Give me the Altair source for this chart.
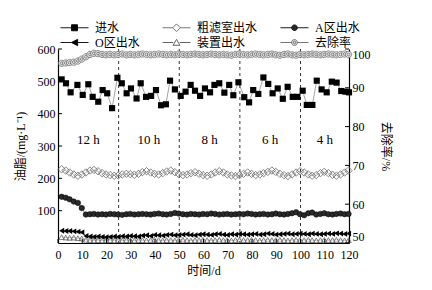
import altair as alt
import pandas as pd

# ---------------- data ----------------
series_names = ["进水", "粗滤室出水", "A区出水", "O区出水", "装置出水", "去除率"]

inflow_days = [1.5, 3.3, 5.2, 8, 10.2, 12.5, 14.3, 16.6, 18.4, 20.3,
               22.3, 24.5, 26.3, 28.3, 30.1, 32.4, 34.1, 36.3, 38.4, 40.4,
               42.5, 44.5, 46.2, 48.2, 50.6, 52.6, 54.7, 56.5, 58.6, 60.6,
               62.7, 64.5, 66.5, 68.6, 70.6, 72.3, 74.4, 76.8, 78.8, 80.5,
               82.6, 84.7, 86.7, 88.5, 90.6, 92.7, 94.7, 96.8, 98.7, 100.9,
               102.6, 104.9, 106.7, 108.7, 110.8, 112.9, 114.9, 116.8, 118.6, 120]
inflow = [506, 494, 466, 489, 458, 491, 452, 437, 473, 463,
          417, 511, 494, 463, 478, 447, 494, 452, 455, 473,
          426, 429, 502, 475, 455, 468, 489, 471, 455, 478,
          466, 489, 494, 465, 489, 457, 497, 451, 435, 473,
          461, 512, 492, 463, 478, 446, 483, 452, 452, 471,
          427, 427, 502, 475, 466, 499, 496, 470, 468, 466]

days = [1.5, 3.2, 4.8, 6.5, 8.2, 9.8, 11.5, 13.2, 14.8, 16.5,
        18.2, 19.8, 21.5, 23.2, 24.8, 26.5, 28.2, 29.8, 31.5, 33.2,
        34.8, 36.5, 38.2, 39.8, 41.5, 43.2, 44.8, 46.5, 48.2, 49.8,
        51.5, 53.2, 54.8, 56.5, 58.2, 59.8, 61.5, 63.2, 64.8, 66.5,
        68.2, 69.8, 71.5, 73.2, 74.8, 76.5, 78.2, 79.8, 81.5, 83.2,
        84.8, 86.5, 88.2, 89.8, 91.5, 93.2, 94.8, 96.5, 98.2, 99.8,
        101.5, 103.2, 104.8, 106.5, 108.2, 109.8, 111.5, 113.2, 114.8, 116.5,
        118.2, 119.8]

coarse = [228, 224, 218, 212, 208, 212, 218, 224, 226, 222,
          216, 212, 210, 208, 209, 212, 214, 213, 211, 214,
          219, 222, 218, 214, 212, 216, 221, 224, 219, 213,
          210, 212, 216, 219, 214, 210, 208, 212, 218, 222,
          218, 212, 209, 207, 210, 214, 218, 214, 210, 212,
          216, 220, 224, 220, 214, 210, 207, 212, 218, 222,
          218, 212, 208, 210, 216, 220, 216, 211, 208, 212,
          218, 224]

zone_a = [143, 140, 135, 128, 124, 108, 88, 89, 90, 88,
          89, 88, 90, 89, 88, 87, 89, 90, 88, 89,
          90, 89, 88, 90, 91, 89, 88, 90, 93, 91,
          89, 88, 90, 89, 88, 90, 89, 91, 90, 88,
          89, 90, 88, 89, 90, 89, 91, 90, 88, 89,
          90, 88, 89, 91, 89, 88, 90, 92, 95, 89,
          86, 92, 94, 88, 90, 92, 89, 88, 90, 91,
          89, 90]

zone_o = [38, 37, 37, 36, 35, 33,
          22, 20, 19, 20, 19, 18, 19, 20, 19, 21,
          20, 22, 21, 20, 23, 24, 22, 25, 24, 23,
          25, 26, 24, 25, 26, 27, 25, 24, 26, 27,
          26, 25, 27, 28, 26, 25, 27, 26, 28, 27,
          26, 27, 28, 26, 27, 29, 28, 26, 27, 28,
          29, 27, 28, 29, 28, 27, 29, 28, 27, 28,
          29, 28, 30, 29, 28, 29]

final_out = [18, 17, 16, 17, 15, 14,
             10, 9, 8, 9, 8, 8, 9, 8, 9, 8,
             9, 8, 8, 9, 9, 8, 9, 10, 9, 8,
             9, 9, 8, 9, 10, 9, 8, 9, 9, 10,
             9, 8, 9, 10, 9, 9, 8, 9, 10, 9,
             9, 10, 9, 8, 9, 10, 9, 9, 10, 9,
             8, 9, 10, 9, 9, 10, 9, 8, 9, 10,
             9, 9, 10, 9, 8, 9]

removal = [96.3, 96.4, 96.5, 96.6, 96.9, 97.4, 98.0, 98.6, 98.9, 98.8,
           98.6, 98.5, 98.6, 98.5, 98.6, 98.7, 98.5, 98.6, 98.5, 98.6,
           98.7, 98.6, 98.5, 98.6, 98.7, 98.6, 98.5, 98.6, 98.5, 98.7,
           98.6, 98.5, 98.6, 98.7, 98.6, 98.5, 98.6, 98.7, 98.6, 98.5,
           98.6, 98.5, 98.4, 98.6, 98.7, 98.6, 98.5, 98.6, 98.7, 98.6,
           98.5, 98.6, 98.7, 98.5, 98.4, 98.6, 98.7, 98.5, 98.4, 98.6,
           98.5, 98.6, 98.7, 98.6, 98.5, 98.6, 98.7, 98.6, 98.5, 98.6,
           98.7, 98.6]

phase_bounds = [0, 25, 50, 75, 100, 120]
phase_labels = ["12 h", "10 h", "8 h", "6 h", "4 h"]
phase_label_level = 320

left_ticks = [100, 200, 300, 400, 500, 600]
right_ticks = [50, 60, 70, 80, 90, 100]
x_ticks = [0, 10, 20, 30, 40, 50, 60, 70, 80, 90, 100, 110, 120]

# ---------------- tables ----------------
rows = []
for d, v in zip(inflow_days, inflow):
    rows.append({"day": d, "series": "进水", "value": v})
for name, vals in [("粗滤室出水", coarse), ("A区出水", zone_a), ("O区出水", zone_o),
                   ("装置出水", final_out), ("去除率", removal)]:
    for d, v in zip(days, vals):
        rows.append({"day": d, "series": name, "value": v})
df = pd.DataFrame(rows)

bounds_df = pd.DataFrame({"day": phase_bounds[1:-1]})
labels_df = pd.DataFrame({
    "day": [(a + b) / 2 for a, b in zip(phase_bounds[:-1], phase_bounds[1:])],
    "value": [phase_label_level] * len(phase_labels),
    "label": phase_labels,
})
lt_df = pd.DataFrame({"value": left_ticks})
rt_df = pd.DataFrame({"value": right_ticks})
xt_df = pd.DataFrame({"day": x_ticks})
legend_df = pd.DataFrame({"series": series_names})

# ---------------- styles ----------------
LAT = "'Liberation Serif', 'Noto Sans CJK SC'"
W, H = 291, 194

x_enc = alt.X("day:Q", scale=alt.Scale(domain=[0, 120], nice=False, zero=False),
              axis=alt.Axis(values=x_ticks, title="时间/d", labelFont=LAT, labelFontSize=12,
                            titleFont=LAT, titleFontSize=12, titleFontWeight="normal",
                            labelColor="black", titleColor="black", tickSize=0,
                            labelPadding=6, titlePadding=5, domainColor="black",
                            domainWidth=1.2, grid=False, labelFlush=False))
y_left = alt.Y("value:Q", scale=alt.Scale(domain=[0, 600], nice=False),
               axis=alt.Axis(values=left_ticks, title="油脂/(mg·L⁻¹)", orient="left",
                             labelFont=LAT, labelFontSize=12, titleFont=LAT,
                             titleFontSize=12, titleFontWeight="normal",
                             labelColor="black", titleColor="black", tickSize=0,
                             labelPadding=3, titlePadding=10, domainColor="black",
                             domainWidth=1.2, grid=False))
y_right = alt.Y("value:Q", scale=alt.Scale(domain=[50, 100], nice=False, zero=False),
                axis=alt.Axis(values=right_ticks, title="去除率/%", orient="right",
                              labelFont=LAT, labelFontSize=12, titleFont=LAT,
                              titleFontSize=12, titleFontWeight="normal",
                              labelColor="black", titleColor="black", tickSize=0,
                              labelPadding=3, titlePadding=8, domainColor="black",
                              domainWidth=1.2, grid=False, labelFlush=3))

base = alt.Chart(df)


def series(name):
    return base.transform_filter(alt.datum.series == name)


ring_path = ("M1,0A1,1,0,1,1,-1,0A1,1,0,1,1,1,0Z "
             "M0.45,0A0.45,0.45,0,1,1,-0.45,0A0.45,0.45,0,1,1,0.45,0Z")

dashed = alt.Chart(bounds_df).mark_rule(color="black", strokeWidth=0.8, strokeDash=[3, 3]).encode(x=x_enc)
texts = alt.Chart(labels_df).mark_text(font=LAT, fontSize=13, color="black").encode(
    x=x_enc, y=y_left, text="label:N")

coarse_l = series("粗滤室出水").mark_line(color="#999", strokeWidth=0.5).encode(x=x_enc, y=y_left)
coarse_p = series("粗滤室出水").mark_point(shape="diamond", filled=False, color="#666",
                                          strokeWidth=0.8, size=55, opacity=1).encode(x=x_enc, y=y_left)
a_l = series("A区出水").mark_line(color="#333", strokeWidth=0.6).encode(x=x_enc, y=y_left)
a_p = series("A区出水").mark_point(shape="circle", filled=True, fill="#2a2a2a", stroke="black",
                                   strokeWidth=0.5, size=30, opacity=1).encode(x=x_enc, y=y_left)
o_l = series("O区出水").mark_line(color="black", strokeWidth=0.6).encode(x=x_enc, y=y_left)
o_p = series("O区出水").mark_point(shape="triangle-left", filled=True, color="black",
                                   size=34, opacity=1).encode(x=x_enc, y=y_left)
f_l = series("装置出水").mark_line(color="#888", strokeWidth=0.5).encode(x=x_enc, y=y_left)
f_p = series("装置出水").mark_point(shape="triangle-up", filled=False, color="#555",
                                    strokeWidth=0.7, size=30, opacity=1).encode(x=x_enc, y=y_left)
in_l = series("进水").mark_line(color="#666", strokeWidth=0.6).encode(x=x_enc, y=y_left)
in_p = series("进水").mark_point(shape="square", filled=True, color="black",
                                size=38, opacity=1).encode(x=x_enc, y=y_left)

lticks = alt.Chart(lt_df).mark_rule(color="black", strokeWidth=1).encode(
    y=y_left, x=alt.value(0), x2=alt.value(4))
xticks = alt.Chart(xt_df).mark_rule(color="black", strokeWidth=1).encode(
    x=x_enc, y=alt.value(H), y2=alt.value(H - 4))

# legend (built from the series list via shape/fill/stroke scales);
# entries are filled column by column, so order them for a 3-column, 2-row grid
leg_style = {
    "进水": ("M-2,0H-0.45M0.45,0H2M-0.43,-0.43H0.43V0.43H-0.43Z", "black", "black"),
    "粗滤室出水": ("M-2,0H-0.55M0.55,0H2M0,-0.55L0.55,0L0,0.55L-0.55,0Z", "white", "#666"),
    "A区出水": ("M-2,0H-0.4M0.4,0H2M0.4,0A0.4,0.4,0,1,1,-0.4,0A0.4,0.4,0,1,1,0.4,0Z", "#2a2a2a", "black"),
    "O区出水": ("M-2,0H-0.45M0.45,0H2M-0.45,0L0.45,-0.45L0.45,0.45Z", "black", "black"),
    "装置出水": ("M-2,0H-0.45M0.45,0H2M0,-0.45L0.48,0.4L-0.48,0.4Z", "white", "#555"),
    "去除率": ("M-2,0H-0.42M0.42,0H2M0.42,0A0.42,0.42,0,1,1,-0.42,0A0.42,0.42,0,1,1,0.42,0Z "
            "M0.18,0A0.18,0.18,0,1,1,-0.18,0A0.18,0.18,0,1,1,0.18,0Z", "#ddd", "#666"),
}
n_cols = 3
leg_order = [series_names[r * n_cols + c] for c in range(n_cols) for r in range(2)]
leg_paths = [leg_style[n][0] for n in leg_order]
leg_fill = [leg_style[n][1] for n in leg_order]
leg_stroke = [leg_style[n][2] for n in leg_order]

legend = alt.Legend(orient="none", legendX=2, legendY=-29, columns=n_cols, title=None,
                    symbolSize=196, symbolStrokeWidth=0.9, symbolOpacity=1,
                    labelFont=LAT, labelFontSize=12, labelColor="black",
                    columnPadding=20, rowPadding=1, symbolOffset=7, labelOffset=13,
                    padding=0)
leg_layer = alt.Chart(legend_df).mark_point(opacity=1).encode(
    shape=alt.Shape("series:N", scale=alt.Scale(domain=leg_order, range=leg_paths), legend=legend),
    fill=alt.Fill("series:N", scale=alt.Scale(domain=leg_order, range=leg_fill), legend=legend),
    stroke=alt.Stroke("series:N", scale=alt.Scale(domain=leg_order, range=leg_stroke), legend=legend),
).transform_filter("false")

left = alt.layer(dashed, texts, coarse_l, coarse_p, a_l, a_p, f_l, f_p, o_l, o_p,
                 in_l, in_p, lticks, xticks, leg_layer)

rem_l = series("去除率").mark_line(color="#888", strokeWidth=0.5).encode(x=x_enc, y=y_right)
rem_p = series("去除率").mark_point(shape=ring_path, filled=True, fill="#e2e2e2", stroke="#666",
                                   strokeWidth=0.7, size=40, opacity=1).encode(x=x_enc, y=y_right)
rticks = alt.Chart(rt_df).mark_rule(color="black", strokeWidth=1).encode(
    y=y_right, x=alt.value(W - 4), x2=alt.value(W))
right = alt.layer(rem_l, rem_p, rticks)

chart = alt.layer(left, right).resolve_scale(y="independent").properties(
    width=W, height=H,
    autosize=alt.AutoSizeParams(type="none"),
    padding={"left": 58, "top": 49, "right": 83, "bottom": 47},
    background="white",
).configure_view(strokeWidth=0)

chart.save("out.html", embed_options={"renderer": "svg", "actions": False})
